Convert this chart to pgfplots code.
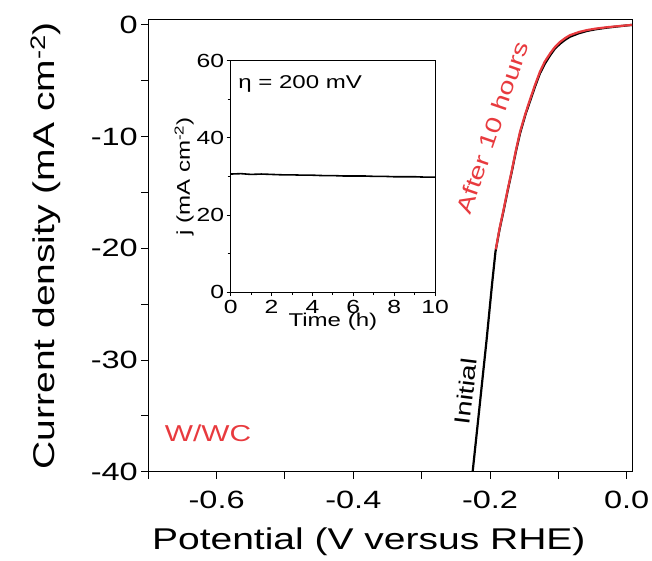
\documentclass[border=0pt]{standalone}
\usepackage{fontspec}
\setmainfont{Liberation Sans}[FakeStretch=1.3]
\usepackage{pgfplots}
\pgfplotsset{compat=1.18}
\definecolor{myred}{RGB}{232,58,62}

\begin{document}
\begin{tikzpicture}
\begin{axis}[name=main, at={(0pt,0pt)}, anchor=south west,
  scale only axis, width=484.4pt, height=452.4pt,
  xmin=-0.7, xmax=0.0088, ymin=-40, ymax=0.5,
  axis line style={line width=1pt},
  xtick={-0.6,-0.4,-0.2,0.0}, xticklabels={-0.6,-0.4,-0.2,0.0},
  minor xtick={-0.7,-0.5,-0.3,-0.1},
  ytick={-40,-30,-20,-10,0}, yticklabels={-40,-30,-20,-10,0},
  minor ytick={-35,-25,-15,-5},
  tick align=outside, xtick pos=bottom, ytick pos=left,
  major tick length=7pt, minor tick length=7pt,
  every tick/.style={line width=1pt, black},
  minor tick style={line width=1pt, black},
  xticklabel style={font=\fontsize{25}{30}\selectfont, yshift=-9pt},
  yticklabel style={font=\fontsize{25}{30}\selectfont, xshift=0pt},
  clip=false,
]
\addplot[black, line width=2.2pt] coordinates {
(-0.2254,-40.0) (-0.215,-34.0) (-0.205,-28.2) (-0.197,-23.2) (-0.192,-20.3)
(-0.186,-18.3) (-0.180,-16.6) (-0.174,-14.8) (-0.168,-13.1) (-0.162,-11.3)
(-0.156,-9.7) (-0.148,-8.0) (-0.141,-6.75) (-0.134,-5.5) (-0.127,-4.35)
(-0.120,-3.5) (-0.112,-2.72) (-0.105,-2.12) (-0.097,-1.66) (-0.090,-1.33)
(-0.083,-1.06) (-0.070,-0.75) (-0.058,-0.54) (-0.045,-0.39) (-0.029,-0.25)
(-0.012,-0.13) (0.008,0.0)
};
\addplot[myred, line width=2.2pt] coordinates {
(-0.1915,-20.1) (-0.186,-18.2) (-0.180,-16.5) (-0.174,-14.7) (-0.168,-13.0)
(-0.162,-11.2) (-0.156,-9.55) (-0.148,-7.9) (-0.141,-6.6) (-0.134,-5.35)
(-0.127,-4.2) (-0.120,-3.3) (-0.112,-2.55) (-0.105,-1.98) (-0.097,-1.5)
(-0.090,-1.18) (-0.083,-0.92) (-0.070,-0.64) (-0.058,-0.46) (-0.045,-0.33)
(-0.029,-0.21) (-0.012,-0.11) (0.008,0.0)
};
\node[myred, rotate=71, font=\fontsize{22}{26}\selectfont] at (axis cs:-0.1965,-9.2) {After 10 hours};
\node[black, rotate=83, font=\fontsize{22}{26}\selectfont] at (axis cs:-0.2355,-32.8) {Initial};
\node[myred, font=\fontsize{23}{27}\selectfont] at (axis cs:-0.6127,-36.6) {W/WC};
\end{axis}

\node[font=\fontsize{30}{36}\selectfont] at (220.5pt,-70pt) {Potential (V versus RHE)};
\node[rotate=90, font=\fontsize{30}{36}\selectfont] at (-103pt,226pt) {Current density (mA cm\textsuperscript{-2})};

\begin{axis}[name=inset, at={(82.4pt,179.7pt)}, anchor=south west,
  scale only axis, width=204.3pt, height=231.3pt,
  xmin=0, xmax=10, ymin=0, ymax=60,
  axis background/.style={fill=white},
  axis line style={line width=1pt},
  xtick={0,2,4,6,8,10}, xticklabels={0,2,4,6,8,10},
  minor xtick={1,3,5,7,9},
  ytick={0,20,40,60}, yticklabels={0,20,40,60},
  minor ytick={10,30,50},
  tick align=outside, xtick pos=bottom, ytick pos=left,
  major tick length=4pt, minor tick length=3pt,
  every tick/.style={line width=0.8pt, black},
  minor tick style={line width=0.8pt, black},
  ticklabel style={font=\fontsize{19}{22}\selectfont},
  xticklabel style={yshift=-1pt},
  yticklabel style={xshift=1pt},
  xlabel={Time (h)}, ylabel={j (mA cm\textsuperscript{-2})},
  label style={font=\fontsize{18.5}{21}\selectfont},
  xlabel shift=-8pt, ylabel shift=-4pt,
  clip=false,
]
\addplot[black, line width=1.6pt] coordinates {
(0,30.6) (0.5,30.7) (1,30.5) (1.5,30.6) (2,30.5) (2.5,30.4) (3,30.4)
(3.5,30.3) (4,30.3) (4.5,30.2) (5,30.2) (5.5,30.1) (6,30.1) (6.5,30.1)
(7,30.0) (7.5,30.0) (8,29.9) (8.5,29.9) (9,29.9) (9.5,29.8) (10,29.8)
};
\node[anchor=base west, font=\fontsize{18.5}{21}\selectfont] at (axis cs:0.2,52.8) {η = 200 mV};
\end{axis}

\pgfresetboundingbox
\path (-148.3pt,-88.3pt) rectangle (503.7pt,471.7pt);
\end{tikzpicture}
\end{document}
